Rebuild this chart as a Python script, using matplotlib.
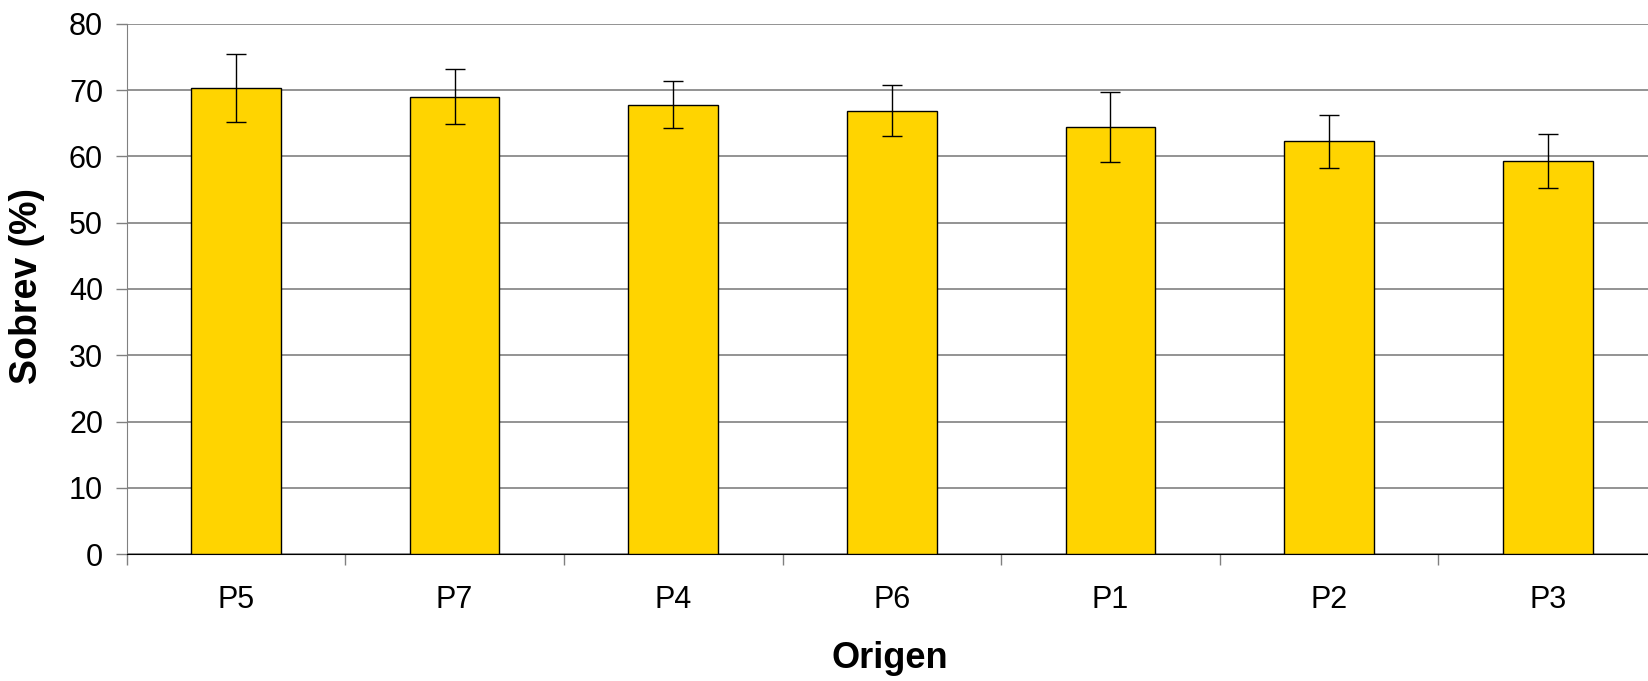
import matplotlib
matplotlib.use("Agg")
import matplotlib.pyplot as plt
import numpy as np

categories = ["P5", "P7", "P4", "P6", "P1", "P2", "P3"]
values = [70.3, 69.0, 67.8, 66.9, 64.4, 62.3, 59.3]
errors = [5.1, 4.1, 3.6, 3.8, 5.3, 4.0, 4.0]
yticks = [0, 10, 20, 30, 40, 50, 60, 70, 80]

plt.rcParams['font.family'] = ['Liberation Sans', 'DejaVu Sans']

W, H = 1648, 681
fig = plt.figure(figsize=(W / 100, H / 100), dpi=100)
left = 126.7 / W
bottom = (H - 554.3) / H
top = 1 - 23.7 / H
right = 1657 / W
ax = fig.add_axes([left, bottom, right - left, top - bottom])

x = np.arange(len(categories))
ax.bar(x, values, width=0.41, color="#FFD400", edgecolor="black", linewidth=1.0, zorder=3)
ax.errorbar(x, values, yerr=errors, fmt="none", ecolor="black", elinewidth=1.0,
            capsize=7.2, capthick=1.0, zorder=4)

ax.set_xlim(-0.5, len(categories) - 0.5)
ax.set_ylim(0, 80)
ax.set_yticks(yticks)
ax.set_yticklabels([str(t) for t in yticks], fontsize=22)
ax.yaxis.grid(True, color="#808080", linewidth=1.2, zorder=0)
ax.set_axisbelow(True)

ax.set_xticks(x)
ax.set_xticklabels(categories, fontsize=22)
ax.tick_params(axis="x", which="major", length=0, pad=22)
ax.set_xticks(np.arange(len(categories) + 1) - 0.5, minor=True)
ax.tick_params(axis="x", which="minor", length=8, width=1, color="#808080", direction="out")
ax.tick_params(axis="y", length=8, width=1, color="#808080", direction="out", pad=9)

for s in ["top", "right"]:
    ax.spines[s].set_visible(False)
ax.spines["left"].set_color("#808080")
ax.spines["bottom"].set_color("black")

ax.set_xlabel("Origen", fontsize=26, fontweight="bold")
ax.set_ylabel("Sobrev (%)", fontsize=27, fontweight="bold")
ax.xaxis.set_label_coords(890 / W, (H - 659) / H, transform=fig.transFigure)
ax.xaxis.label.set_va("center")
ax.yaxis.set_label_coords(27 / W, (H - 286) / H, transform=fig.transFigure)
ax.yaxis.label.set_va("center")

fig.savefig("out.png", dpi=100)
